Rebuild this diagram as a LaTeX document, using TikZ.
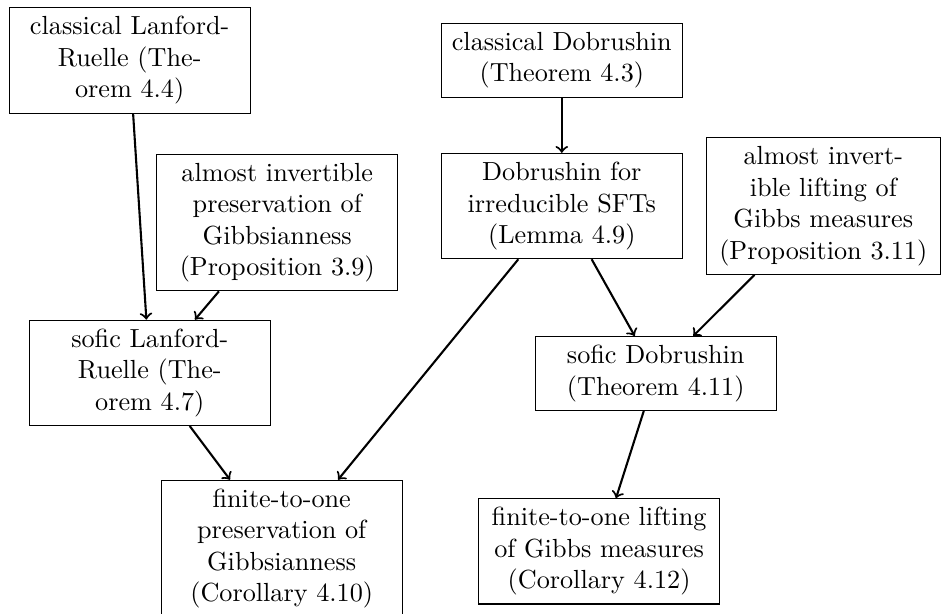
\documentclass[tikz,border=0pt]{standalone}
\usepackage{amsmath}
\usepackage{tikz}
\usetikzlibrary{positioning}

\begin{document}
\begin{tikzpicture}[resultnode/.style={rectangle, draw, text width=3cm, align=center}]
        \useasboundingbox (0,0) rectangle (12.68,-8.23);

        \node[resultnode] (1) at (1.74,-0.81) {classical Lanford-Ruelle (Theorem 4.4)};
        \node[resultnode] (2) [right=2.55cm of 1] {classical Dobrushin (Theorem 4.3)};
        \node[resultnode] (3) [below=0.54cm of 1, xshift=1.98cm] {almost invertible preservation of Gibbsianness (Proposition 3.9)};
        \node[resultnode] (4) [below=0.74cm of 2] {Dobrushin for irreducible SFTs (Lemma 4.9)};
        \node[resultnode, text width=2.9cm] (5) [right=0.31cm of 4] {almost invertible lifting of Gibbs measures (Proposition 3.11)};
        \node[resultnode] (6) [below=0.38cm of 3, xshift=-1.71cm] {sofic Lanford-Ruelle (Theorem 4.7)};
        \node[resultnode] (7) [below=1.03cm of 4, xshift=1.26cm] {sofic Dobrushin (Theorem 4.11)};
        \node[resultnode] (8) [below=0.72cm of 6, xshift=1.77cm] {finite-to-one preservation of Gibbsianness (Corollary 4.10)};
        \node[resultnode] (9) [below=1.17cm of 7, xshift=-0.76cm] {finite-to-one lifting of Gibbs measures (Corollary 4.12)};

        \draw[->, thick] (1) -- (6);
        \draw[->, thick] (3) -- (6);
        \draw[->, thick] (2) -- (4);
        \draw[->, thick] (4) -- (7);
        \draw[->, thick] (5) -- (7);
        \draw[->, thick] (6) -- (8);
        \draw[->, thick] (4) -- (8);
        \draw[->, thick] (7) -- (9);

\end{tikzpicture}
\end{document}
